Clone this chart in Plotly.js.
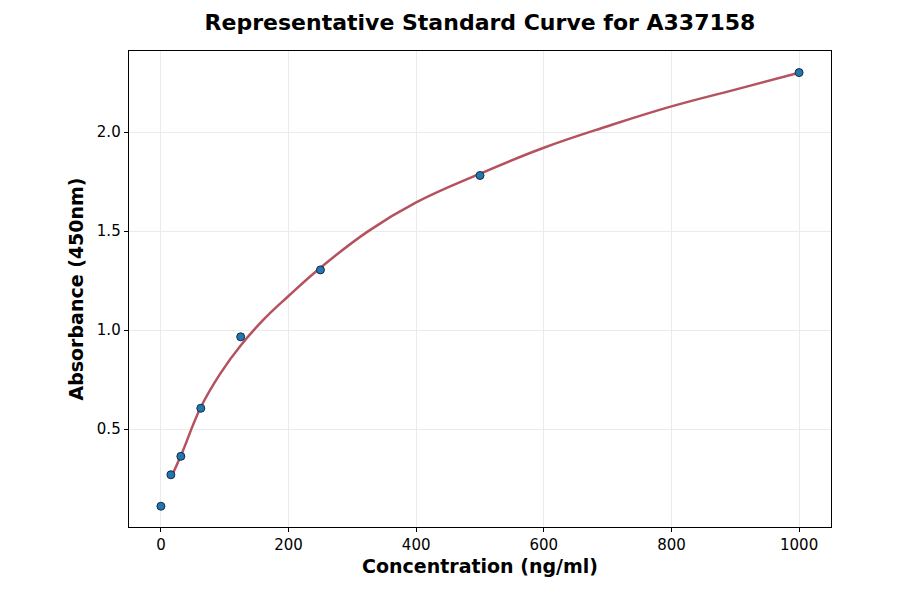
<!DOCTYPE html>
<html>
<head>
<meta charset="utf-8">
<script src="https://cdn.plot.ly/plotly-3.0.1.min.js"></script>
<style>
  body { margin: 0; background: #fff; }
  #chart { width: 900px; height: 594px; }
</style>
</head>
<body>
<div id="chart"></div>
<script>
// standards
let concentration = [0, 15.625, 31.25, 62.5, 125, 250, 500, 1000];
let absorbance = [0.110, 0.269, 0.362, 0.605, 0.966, 1.304, 1.781, 2.301];

// fitted curve, sampled by eye along the red line
let curveX = [15.625, 31.25, 62.5, 93, 125, 160, 200, 250, 325, 400, 500, 600, 700, 800, 900, 1000];
let curveY = [0.254, 0.365, 0.61, 0.78, 0.922, 1.05, 1.172, 1.315, 1.50, 1.645, 1.79, 1.921, 2.03, 2.13, 2.215, 2.30];

let xTicks = [0, 200, 400, 600, 800, 1000];
let yTicks = [0.5, 1.0, 1.5, 2.0];

let font = "DejaVu Sans, sans-serif";

let fit = {
  type: "scatter",
  mode: "lines",
  x: curveX,
  y: curveY,
  line: { color: "rgb(181,82,95)", width: 2.5, shape: "spline", smoothing: 1.2 },
  hoverinfo: "skip",
};

let points = {
  type: "scatter",
  mode: "markers",
  x: concentration,
  y: absorbance,
  marker: {
    color: "#1f77b4",
    size: 8,
    line: { color: "#1a2a3a", width: 1 },
  },
};

let axisBase = {
  showline: true,
  linecolor: "#000",
  linewidth: 1.3,
  mirror: true,
  ticks: "outside",
  ticklen: 4,
  tickwidth: 1,
  tickcolor: "#000",
  showgrid: true,
  gridcolor: "#ebebeb",
  gridwidth: 1,
  zeroline: false,
  tickfont: { family: font, size: 15, color: "#000" },
};

let layout = {
  width: 900,
  height: 594,
  margin: { l: 129, r: 69, t: 51, b: 67 },
  paper_bgcolor: "#fff",
  plot_bgcolor: "#fff",
  showlegend: false,
  title: {
    text: "<b>Representative Standard Curve for A337158</b>",
    font: { family: font, size: 22, color: "#000" },
    xref: "paper",
    x: 0.5,
    xanchor: "center",
    y: 0.963,
    yanchor: "middle",
  },
  xaxis: Object.assign({}, axisBase, {
    range: [-50, 1050],
    tickvals: xTicks,
    ticktext: xTicks.map(String),
    title: {
      text: "<b>Concentration (ng/ml)</b>",
      font: { family: font, size: 19, color: "#000" },
      standoff: 6,
    },
  }),
  yaxis: Object.assign({}, axisBase, {
    range: [0.005, 2.41],
    tickvals: yTicks,
    ticktext: yTicks.map((v) => v.toFixed(1)),
    title: {
      text: "<b>Absorbance (450nm)</b>",
      font: { family: font, size: 19, color: "#000" },
      standoff: 8,
    },
  }),
};

Plotly.newPlot("chart", [fit, points], layout, { displayModeBar: false, staticPlot: true });
</script>
</body>
</html>
